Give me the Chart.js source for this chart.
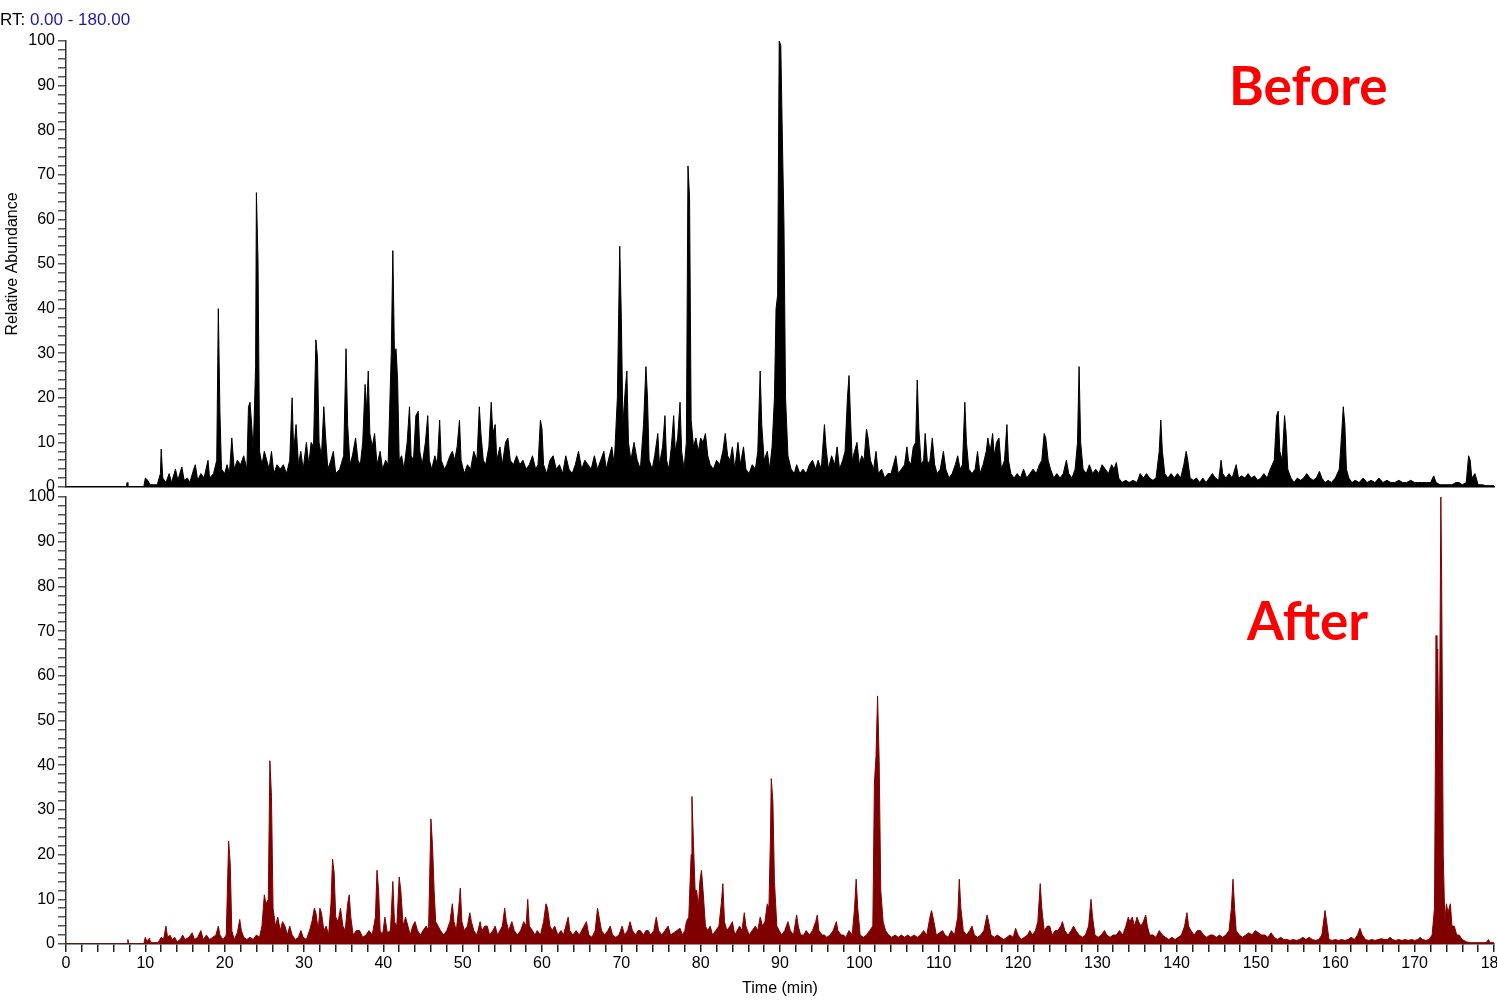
<!DOCTYPE html>
<html>
<head>
<meta charset="utf-8">
<script src="https://cdn.jsdelivr.net/npm/chart.js@4.4.1/dist/chart.umd.min.js"></script>
<style>
  html, body { margin: 0; padding: 0; background: #fff; overflow: hidden; width: 1497px; height: 1006px; }
  canvas { position: absolute; left: 0; }
  #topChart { top: 0; }
  #bottomChart { top: 480px; }
</style>
</head>
<body>
<canvas id="bottomChart" width="1530" height="526"></canvas>
<canvas id="topChart" width="1530" height="500"></canvas>
<script>
// --- Daten: [Retentionszeit (min), relative Abundanz (%)] ---
const beforeTrace = [
  [0,0],[7.6,0],[7.7,1],[7.8,0],[9.8,0],[10,2],[10.3,1.5],[10.6,0.5],[11.5,0.5],[11.9,3],
  [12.0,8.5],[12.2,2],[12.6,1],[13.0,3],[13.3,1],[13.8,4],[14.1,1.5],[14.6,4.5],[14.9,1.5],[15.3,2],
  [15.6,1],[16.1,4],[16.3,5],[16.6,1.5],[17.0,3],[17.4,2],[17.9,6],[18.1,2],[18.6,3],[19.0,6],
  [19.2,40],[19.4,17],[19.6,4],[20.0,3],[20.3,5],[20.6,3],[20.9,11],[21.2,4],[21.6,6],[22.0,5],
  [22.4,7],[22.8,4],[23.0,18],[23.2,19],[23.4,14],[23.6,8],[23.9,27],[24.0,66],[24.2,51],[24.4,8],
  [24.7,5],[25.0,8],[25.3,6],[25.6,4],[25.9,8],[26.2,3],[26.6,5],[27.0,4],[27.4,5],[27.8,3],
  [28.2,6],[28.5,20],[28.7,8],[29.0,14],[29.3,5],[29.6,8],[29.9,4],[30.3,10],[30.6,5],[30.9,10],
  [31.2,9],[31.5,33],[31.7,29],[31.9,10],[32.2,7],[32.5,18],[32.7,12],[33.0,4],[33.4,6],[33.7,8],
  [34.0,3],[34.5,4],[35.0,7],[35.3,31],[35.5,14],[35.8,5],[36.1,7],[36.5,11],[36.8,6],[37.1,5],
  [37.4,10],[37.7,23],[37.9,17],[38.1,26],[38.3,12],[38.6,9],[38.9,12],[39.2,5],[39.6,8],[39.9,4],
  [40.3,6],[40.6,5],[41.0,30],[41.2,53],[41.4,30],[41.6,31],[41.8,24],[42.0,6],[42.3,7],[42.6,4],
  [43.0,10],[43.3,18],[43.5,7],[43.8,6],[44.1,16],[44.4,17],[44.6,8],[44.9,5],[45.3,10],[45.6,16],
  [45.8,6],[46.1,4],[46.5,7],[46.8,5],[47.1,15],[47.3,6],[47.7,4],[48.0,5],[48.4,7],[48.7,8],
  [49.0,6],[49.3,9],[49.6,15],[49.8,6],[50.2,3],[50.6,5],[51.0,4],[51.4,8],[51.8,6],[52.1,18],
  [52.3,12],[52.6,6],[52.9,5],[53.3,9],[53.6,19],[53.8,12],[54.1,14],[54.3,6],[54.7,9],[55.0,5],
  [55.4,10],[55.7,11],[56.0,6],[56.4,5],[56.8,7],[57.2,5],[57.6,6],[58.0,4],[58.4,5],[58.8,7],
  [59.2,4],[59.5,5],[59.8,15],[60.0,13],[60.2,5],[60.6,3],[61.0,6],[61.4,7],[61.8,4],[62.2,5],
  [62.6,3],[63.0,7],[63.4,4],[63.8,3],[64.2,5],[64.6,8],[65.0,4],[65.4,6],[65.8,5],[66.2,4],
  [66.6,7],[67.0,4],[67.4,6],[67.8,8],[68.1,4],[68.5,7],[68.8,9],[69.1,5],[69.5,20],[69.8,54],
  [70.0,38],[70.2,14],[70.5,22],[70.7,26],[70.9,10],[71.2,6],[71.6,10],[72.0,6],[72.4,4],[72.8,14],
  [73.1,27],[73.3,20],[73.5,6],[73.9,4],[74.2,7],[74.6,12],[74.8,5],[75.2,9],[75.5,16],[75.7,6],
  [76.0,4],[76.3,9],[76.6,16],[76.8,8],[77.1,11],[77.4,19],[77.6,8],[77.9,4],[78.2,10],[78.4,72],
  [78.6,65],[78.8,15],[79.1,9],[79.4,11],[79.7,8],[80.0,11],[80.3,10],[80.6,12],[80.9,7],[81.2,5],
  [81.6,4],[82.0,6],[82.4,5],[82.8,8],[83.1,12],[83.4,7],[83.7,6],[84.0,9],[84.3,4],[84.7,10],
  [85.0,5],[85.4,9],[85.7,4],[86.1,3],[86.5,5],[86.9,4],[87.2,8],[87.5,26],[87.7,14],[88.0,6],
  [88.4,8],[88.7,4],[89.0,9],[89.3,20],[89.5,40],[89.7,43],[89.9,100],[90.1,99],[90.3,78],[90.5,59],
  [90.7,20],[91.0,7],[91.4,4],[91.8,3],[92.1,5],[92.5,3],[92.9,4],[93.3,3],[93.7,5],[94.1,6],
  [94.5,4],[94.8,6],[95.2,4],[95.6,14],[95.8,9],[96.1,4],[96.5,7],[96.9,5],[97.2,9],[97.5,4],
  [97.9,6],[98.2,8],[98.5,20],[98.7,25],[98.9,15],[99.1,6],[99.4,8],[99.7,10],[100.0,5],[100.3,7],
  [100.6,6],[100.9,13],[101.1,11],[101.4,6],[101.8,4],[102.1,8],[102.4,3],[102.8,4],[103.2,2],[103.6,3],
  [104.0,3],[104.3,5],[104.6,7],[104.9,3],[105.3,4],[105.7,5],[106.0,9],[106.2,6],[106.5,5],[106.8,9],
  [107.1,10],[107.3,24],[107.5,13],[107.8,5],[108.1,6],[108.3,12],[108.6,5],[108.9,6],[109.2,11],[109.5,5],
  [109.8,3],[110.2,4],[110.6,8],[110.9,4],[111.3,2],[111.7,3],[112.1,5],[112.4,7],[112.7,4],[113.0,5],
  [113.3,19],[113.5,10],[113.8,4],[114.2,3],[114.6,4],[114.9,8],[115.2,3],[115.6,5],[116.0,8],[116.2,11],
  [116.5,8],[116.8,12],[117.0,7],[117.3,10],[117.6,11],[117.9,4],[118.3,6],[118.6,14],[118.8,6],[119.1,3],
  [119.5,2],[119.9,3],[120.3,2],[120.7,4],[121.1,2],[121.5,3],[121.9,4],[122.3,3],[122.7,5],[123.0,6],
  [123.3,12],[123.5,11],[123.8,6],[124.1,4],[124.5,2],[124.9,3],[125.3,2],[125.7,3],[126.1,6],[126.4,3],
  [126.8,2],[127.2,4],[127.5,10],[127.7,27],[127.9,10],[128.2,4],[128.6,3],[129.0,5],[129.4,3],[129.8,4],
  [130.2,3],[130.6,5],[131.0,4],[131.4,3],[131.8,5],[132.1,4],[132.4,5.5],[132.7,2],[133.1,1],[133.6,1.5],
  [134.0,1],[134.5,1.5],[135.0,1],[135.4,3],[135.8,2],[136.2,3],[136.6,2],[137.0,1.5],[137.4,2],[137.8,8],
  [138.0,15],[138.2,8],[138.5,3],[138.9,2],[139.3,3],[139.7,2],[140.1,3],[140.5,2],[140.9,5],[141.2,8],
  [141.4,6],[141.7,2],[142.1,1.5],[142.5,2],[142.9,1],[143.3,2],[143.7,1],[144.1,2],[144.5,3],[144.9,2],
  [145.3,1.5],[145.6,6],[145.8,3],[146.2,2],[146.6,3],[147.0,2],[147.5,5],[147.8,2],[148.2,2.5],[148.6,2],
  [149.0,3],[149.4,2],[149.8,2.5],[150.2,1.5],[150.6,2],[151.0,3],[151.4,2],[151.8,4],[152.3,6],[152.6,16],
  [152.8,17],[153.0,8],[153.3,6],[153.6,16],[153.8,12],[154.0,4],[154.4,2],[154.8,1],[155.2,2],[155.6,1.5],
  [156.0,2],[156.4,3],[156.8,2],[157.2,1.5],[157.6,2],[158.0,3.5],[158.3,2],[158.7,1],[159.1,1.5],[159.5,1],
  [160.0,2],[160.5,4],[160.8,12],[161.0,18],[161.2,14],[161.4,4],[161.7,2],[162.1,1],[162.5,1.5],[163.0,1],
  [163.5,2],[164.0,1],[164.5,1.5],[165.0,1],[165.5,2],[166.0,1],[166.5,1.5],[167.0,1],[167.5,1],[168.0,1.5],
  [168.5,1],[169.0,1],[169.5,1.5],[170.0,1],[170.5,1],[171.0,1],[171.5,1],[172.0,1],[172.4,2.5],[172.7,1],
  [173.2,0.5],[173.7,0.5],[174.2,0.5],[174.7,0.5],[175.2,1],[175.6,1],[176.0,0.5],[176.5,1],[176.8,7],[177.0,6],
  [177.2,2],[177.6,3],[178.0,0.5],[178.5,0.5],[179.0,0.3],[180.0,0.3]
];

const afterTrace = [
  [0,0],[7.7,0],[7.8,1],[7.9,0],[9.8,0],[10.0,1.5],[10.2,0.5],[10.5,1.3],[10.7,0.3],[11.6,0.3],
  [12.0,1.5],[12.3,1],[12.6,4],[12.8,1.5],[13.1,2],[13.4,1],[13.7,1.5],[14.0,0.5],[14.4,1],[14.7,2],
  [15.0,1],[15.5,1.5],[15.9,2.5],[16.2,1],[16.6,1.5],[17.0,3],[17.3,1],[17.7,2],[18.1,1],[18.5,1.5],
  [18.9,2],[19.2,4],[19.4,2],[19.8,1],[20.2,2],[20.5,23],[20.7,18],[20.9,3],[21.2,1],[21.6,2.5],
  [21.9,5.5],[22.1,3],[22.4,1.5],[22.8,1],[23.2,1.5],[23.6,1],[24.0,2],[24.4,1.5],[24.7,4],[25.0,11],
  [25.2,9],[25.5,10],[25.7,41],[25.9,33],[26.1,8],[26.4,4],[26.7,6],[27.0,3],[27.3,5],[27.6,4],
  [27.9,2],[28.2,4],[28.5,2],[28.9,1],[29.3,1.5],[29.6,3],[29.9,1.5],[30.3,1],[30.7,3],[31.0,5],
  [31.3,8],[31.5,7],[31.8,3],[32.0,8],[32.2,7],[32.5,3],[32.8,4],[33.1,2],[33.4,9],[33.6,19],
  [33.8,16],[34.0,6],[34.3,5],[34.6,8],[34.9,4],[35.2,3],[35.5,9],[35.7,11],[35.9,6],[36.2,2],
  [36.6,3],[37.0,3],[37.4,1.5],[37.8,2],[38.2,3],[38.6,2],[39.0,6],[39.2,16.5],[39.4,12],[39.6,3],
  [39.9,2],[40.2,6],[40.5,2.5],[40.9,3],[41.2,14],[41.4,5],[41.7,4],[42.0,15],[42.2,12],[42.5,4],
  [42.8,6],[43.1,4],[43.4,2],[43.7,4],[44.0,5],[44.3,3],[44.7,2],[45.0,3],[45.4,4],[45.7,3],
  [46.0,28],[46.2,22],[46.4,12],[46.6,5],[46.9,4],[47.2,3],[47.6,2],[48.0,3],[48.4,5],[48.7,9],
  [48.9,5],[49.2,3],[49.5,8],[49.7,12.5],[49.9,5],[50.2,3],[50.6,4],[50.9,7],[51.1,5],[51.4,3],
  [51.8,2],[52.2,5],[52.4,3],[52.8,4],[53.1,4],[53.4,2],[53.8,3],[54.1,4],[54.4,2],[54.7,3],
  [55.0,4],[55.3,8],[55.5,5],[55.8,3],[56.2,5],[56.5,3],[56.9,2],[57.3,3],[57.7,5],[58.0,4],
  [58.2,10],[58.4,4],[58.8,3],[59.1,2],[59.4,3],[59.8,2],[60.2,5],[60.5,9],[60.7,8],[61.0,4],
  [61.3,3],[61.6,4],[62.0,2],[62.4,3],[62.7,2],[63.0,4],[63.3,6],[63.5,3],[63.9,2],[64.3,3],
  [64.7,2],[65.0,3],[65.3,4],[65.6,5],[65.9,2],[66.3,1.5],[66.7,3],[67.0,8],[67.2,6],[67.5,3],
  [67.9,2],[68.3,3],[68.6,4],[68.9,2],[69.3,1.5],[69.7,2],[70.1,4],[70.4,2],[70.8,3],[71.1,5],
  [71.4,3],[71.8,2],[72.1,3],[72.4,3],[72.8,2],[73.1,3],[73.4,3],[73.7,2],[74.1,3],[74.4,6],
  [74.7,3],[75.1,2],[75.5,3],[75.9,4],[76.2,2],[76.6,2.5],[77.0,3],[77.4,3.5],[77.7,2],[78.0,3],
  [78.2,5],[78.5,6],[78.8,20],[78.9,33],[79.1,22],[79.3,12],[79.5,12],[79.7,8],[79.9,14],[80.1,16.5],
  [80.3,12],[80.6,4],[80.9,3],[81.2,4],[81.5,2],[81.9,3],[82.3,4],[82.6,9],[82.8,13.5],[83.0,5],
  [83.3,3],[83.7,4],[84.0,5],[84.3,2],[84.6,3],[84.9,4],[85.2,3],[85.5,7],[85.7,4],[86.1,2],
  [86.5,3],[86.9,4],[87.2,3],[87.5,6],[87.8,4],[88.1,5],[88.4,9],[88.6,8],[88.8,24],[88.9,37],
  [89.1,32],[89.3,14],[89.6,4],[89.9,3],[90.2,2],[90.6,3],[91.0,5],[91.3,3],[91.7,2],[92.1,6.5],
  [92.3,4],[92.6,2],[93.0,2],[93.3,3],[93.7,2],[94.1,3],[94.5,5],[94.7,6.5],[94.9,3],[95.3,2],
  [95.6,2],[95.9,1.5],[96.3,2],[96.7,3],[97.1,5],[97.3,3],[97.7,2],[98.0,2],[98.3,1.5],[98.7,3],
  [99.1,2],[99.4,8],[99.6,14.5],[99.8,8],[100.1,2],[100.5,1.5],[100.9,2],[101.3,3],[101.7,4],[101.9,36],
  [102.1,42],[102.3,55.5],[102.5,41],[102.7,12],[103.0,5],[103.3,3],[103.7,2],[104.1,1.5],[104.5,2],[104.9,1.5],
  [105.3,2],[105.7,1.5],[106.1,2],[106.5,1.5],[106.9,2],[107.3,1.5],[107.7,2],[108.1,3],[108.5,2],[108.9,6],
  [109.1,7.5],[109.4,5],[109.7,2],[110.1,2.5],[110.5,3],[110.8,2],[111.2,1.5],[111.6,3],[112.0,2],[112.4,6],
  [112.6,14.5],[112.8,8],[113.1,3],[113.5,2],[113.9,3],[114.2,4],[114.5,2],[114.9,1.5],[115.3,2],[115.7,3],
  [116.1,6.5],[116.3,5],[116.6,2],[117.0,1.5],[117.4,2],[117.8,1.5],[118.2,1],[118.6,1.5],[119.0,2],[119.4,1.5],
  [119.7,3.5],[120.0,2],[120.4,1],[120.8,1.5],[121.2,2],[121.5,3],[121.8,2],[122.2,3],[122.5,5],[122.8,13.5],
  [123.0,8],[123.3,3],[123.7,4],[124.0,4],[124.3,2],[124.7,3],[125.0,3],[125.4,4],[125.6,5],[125.9,3],
  [126.3,2],[126.7,3],[127.0,4],[127.3,3],[127.7,2],[128.1,1.5],[128.5,2],[128.9,4],[129.2,10],[129.4,6],
  [129.7,2],[130.1,1.5],[130.5,2],[130.9,3],[131.2,2],[131.6,1.5],[132.0,2],[132.4,2],[132.8,3],[133.2,2],
  [133.6,4],[133.9,6],[134.1,5],[134.4,6],[134.7,4],[135.0,6],[135.2,5],[135.5,4],[135.8,5],[136.1,6.5],
  [136.3,4],[136.6,2],[137.0,2],[137.4,1.5],[137.8,3],[138.2,2],[138.6,1.5],[139.0,1],[139.4,1.5],[139.8,1],
  [140.2,1.5],[140.6,2],[141.0,4],[141.3,7],[141.5,4],[141.8,3],[142.2,2],[142.6,3],[143.0,3],[143.4,2],
  [143.8,1.5],[144.2,2],[144.6,2],[145.0,1.5],[145.4,2],[145.8,1.5],[146.2,2],[146.6,3],[146.9,8],[147.1,14.5],
  [147.3,8],[147.5,3],[147.9,2],[148.3,1.5],[148.7,2],[149.1,2.5],[149.5,2],[149.9,3],[150.3,2.5],[150.7,2],
  [151.1,2],[151.5,1.5],[151.9,2.5],[152.3,1.5],[152.7,1],[153.1,1.5],[153.5,1],[153.9,1],[154.3,0.8],[154.7,1],
  [155.1,0.8],[155.5,1],[155.9,1.5],[156.3,1],[156.7,1.5],[157.1,1],[157.5,0.8],[157.9,1],[158.3,2],[158.7,7.5],
  [158.9,5],[159.2,1],[159.6,0.8],[160.0,1],[160.4,0.8],[160.8,1],[161.2,0.8],[161.6,1],[162.0,1.5],[162.4,1],
  [162.8,2],[163.1,3.5],[163.4,2],[163.8,1],[164.2,0.8],[164.6,1],[165.0,0.8],[165.4,1],[165.8,1.2],[166.2,1],
  [166.6,1],[166.9,1.5],[167.2,1],[167.6,0.8],[168.0,1],[168.4,0.8],[168.8,1],[169.2,0.8],[169.6,1],[170.0,0.8],
  [170.4,1],[170.7,1.5],[171.0,1],[171.4,0.8],[171.8,1],[172.2,2],[172.5,8],[172.7,69],[172.8,50],[172.9,66],
  [173.1,37],[173.3,100],[173.4,82],[173.6,20],[173.8,5],[174.0,9],[174.2,7],[174.5,9],[174.7,4],[175.0,4],
  [175.3,2],[175.6,2],[176.0,1],[176.5,0.5],[177.0,0.3],[177.5,0.3],[178.0,0.3],[178.5,0.3],[179.0,0.3],[179.3,1],
  [179.5,0.3],[180.0,0.3]
];

// Achsen
const timeRange = [0, 180];
const abundRange = [0, 100];
const minorStep = 2;
const majorStep = 10;

const fontFamily = "'Liberation Sans', Arial, sans-serif";
const labelFont = { family: fontFamily, size: 16 };
const axisColor = '#333';

// Text-Plugin (RT-Zeile, Before/After)
const annotate = {
    id: 'annotate',
    afterDraw(chart, args, opts) {
        const ctx = chart.ctx;
        (opts.items || []).forEach(it => {
            ctx.save();
            ctx.font = it.font;
            ctx.textBaseline = 'alphabetic';
            ctx.textAlign = 'left';
            let x = it.x;
            it.parts.forEach(p => {
                ctx.fillStyle = p.color;
                ctx.fillText(p.text, x, it.y);
                x += ctx.measureText(p.text).width;
            });
            ctx.restore();
        });
    }
};

function majorLabel(v) {
    return (v % majorStep === 0) ? String(v) : '';
}

function yScale(showTitle) {
    return {
        type: 'linear',
        min: abundRange[0], max: abundRange[1],
        afterFit: s => { s.width = 66; },
        border: { color: axisColor, width: 1.5 },
        grid: { drawOnChartArea: false, tickLength: 8, color: '#555', lineWidth: 1.5 },
        ticks: {
            stepSize: minorStep, autoSkip: false, padding: 3,
            color: '#000', font: labelFont,
            callback: majorLabel
        },
        title: {
            display: showTitle, text: 'Relative Abundance', color: '#000',
            font: labelFont,
            padding: { top: 3, bottom: 0 }
        }
    };
}

function makeChart(id, trace, color, opts) {
    return new Chart(document.getElementById(id), {
        type: 'line',
        data: {
            datasets: [{
                data: trace.map(p => ({ x: p[0], y: p[1] })),
                borderColor: color,
                backgroundColor: color,
                borderWidth: 1,
                fill: 'origin',
                pointRadius: 0,
                tension: 0
            }]
        },
        options: {
            responsive: false,
            animation: false,
            devicePixelRatio: 1,
            layout: { padding: opts.padding },
            plugins: {
                legend: { display: false },
                tooltip: { enabled: false },
                annotate: { items: opts.texts }
            },
            scales: {
                x: opts.xScale,
                y: yScale(opts.yTitle)
            }
        },
        plugins: [annotate]
    });
}

// --- Before ---
makeChart('topChart', beforeTrace, '#000000', {
    padding: { top: 41, right: 36, left: 0, bottom: 0 },
    yTitle: true,
    xScale: {
        type: 'linear', min: timeRange[0], max: timeRange[1],
        afterFit: s => { s.height = 13; },
        border: { color: '#000', width: 1.5 },
        grid: { display: false, drawTicks: false },
        ticks: { display: false, stepSize: majorStep }
    },
    texts: [
        { x: 0, y: 25, font: "17px " + fontFamily,
          parts: [{ text: 'RT: ', color: '#000' }, { text: '0.00 - 180.00', color: '#1c1ca0' }] },
        { x: 1229, y: 105, font: "bold 53px Lato, 'Open Sans', sans-serif",
          parts: [{ text: 'Before', color: '#ff0000' }] }
    ]
});

// --- After ---
makeChart('bottomChart', afterTrace, '#800000', {
    padding: { top: 17, right: 36, left: 0, bottom: 0 },
    yTitle: false,
    xScale: {
        type: 'linear', min: timeRange[0], max: timeRange[1],
        afterFit: s => { s.height = 62; },
        border: { color: axisColor, width: 1.5 },
        grid: { drawOnChartArea: false, tickLength: 8, color: '#222', lineWidth: 1.5 },
        ticks: {
            stepSize: minorStep, autoSkip: false, maxRotation: 0, padding: 2,
            color: '#000', font: labelFont,
            callback: majorLabel
        },
        title: {
            display: true, text: 'Time (min)', color: '#000',
            font: labelFont,
            padding: { top: 2, bottom: 8 }
        }
    },
    texts: [
        { x: 1247, y: 160, font: "bold 53px Lato, 'Open Sans', sans-serif",
          parts: [{ text: 'After', color: '#ff0000' }] }
    ]
});
</script>
</body>
</html>
